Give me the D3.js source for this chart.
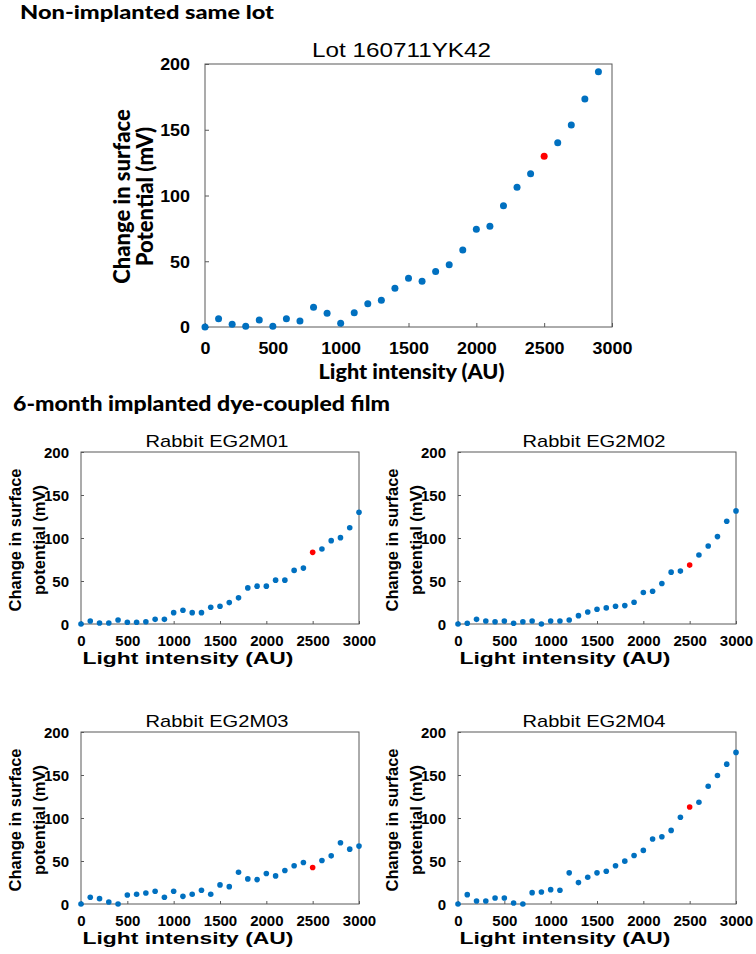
<!DOCTYPE html>
<html>
<head>
<meta charset="utf-8">
<script src="https://cdn.jsdelivr.net/npm/d3@7"></script>
<style>
  body { margin: 0; background: #fff; }
</style>
</head>
<body>
<svg id="fig" width="756" height="954"></svg>
<script>
// light intensity steps (AU)
var intensity = [0, 100, 200, 300, 400, 500, 600, 700, 800, 900, 1000, 1100, 1200, 1300, 1400, 1500,
  1600, 1700, 1800, 1900, 2000, 2100, 2200, 2300, 2400, 2500, 2600, 2700, 2800, 2900, 3000];

// change in surface potential (mV)
var lot160711YK42 = [0, 6.3, 2, 0.5, 5.3, 0.5, 6.3, 4.6, 15, 10.4, 2.8, 10.9, 17.7, 20.3, 29.4, 37,
  34.7, 42.3, 47.4, 58.6, 74.3, 76.6, 92.2, 106.2, 116.6, 129.8, 140.2, 153.6, 173.4, 194.1];
var eg2m01 = [0, 3.5, 1.2, 1.2, 4.7, 2, 2, 2.7, 5.4, 5.4, 13.2, 16, 13.2, 13.2, 19.5, 20.6,
  24.9, 30.4, 42, 44, 44, 51, 51, 62.3, 65, 83.3, 87.2, 96.9, 100.4, 112, 130];
var eg2m02 = [0, 0.8, 5.4, 3.5, 2.7, 3.5, 0.8, 2.7, 3.5, 0, 3.5, 3.5, 4.7, 9.7, 14, 17.1,
  18.7, 20.6, 21.4, 25.3, 36.6, 38.1, 47.1, 60.3, 61.5, 68.5, 80.2, 90.7, 101.6, 119.5, 131.5];
var eg2m03 = [0, 7.8, 6.2, 2.3, 0, 10.5, 11.3, 12.8, 14.8, 7.8, 14.8, 8.9, 11.3, 16, 11.3, 22.2,
  20.2, 37, 29.2, 28.4, 35.4, 32.7, 38.9, 44.4, 48.2, 42.4, 50.6, 56, 71.2, 63.8, 67.3];
var eg2m04 = [0, 10.9, 3.5, 3.5, 7, 7, 1.2, 0, 13.2, 14, 16.7, 16, 36.2, 24.9, 31.1, 36.2,
  38.1, 44.4, 49.8, 56.4, 62.3, 75.5, 78.2, 85.6, 100.8, 112.8, 118.3, 137, 149.4, 162.6, 176.3];

var xTicks = [0, 500, 1000, 1500, 2000, 2500, 3000];
var yTicks = [0, 50, 100, 150, 200];
var highlightAt = 2500;   // the red point

var svg = d3.select("#fig");
var AXIS = "#595959";
var BLUE = "#0070C0";
var RED = "#FF0000";
var ARIAL = "'Liberation Sans', Arial, sans-serif";
var CAL = "Lato, 'Open Sans', sans-serif";

// section headings
svg.append("text")
  .attr("x", 20).attr("y", 19)
  .attr("textLength", 254).attr("lengthAdjust", "spacingAndGlyphs")
  .style("font-family", CAL).style("font-weight", 900).style("font-size", "19px")
  .text("Non-implanted same lot");

svg.append("text")
  .attr("x", 13).attr("y", 411)
  .attr("textLength", 377).attr("lengthAdjust", "spacingAndGlyphs")
  .style("font-family", CAL).style("font-weight", 900).style("font-size", "21px")
  .text("6-month implanted dye-coupled film");

function panel(o) {
  var g = svg.append("g");
  var x = d3.scaleLinear().domain([0, 3000]).range([o.left, o.right]);
  var y = d3.scaleLinear().domain([0, 200]).range([o.bottom, o.top]);

  g.append("rect")
    .attr("x", o.left).attr("y", o.top)
    .attr("width", o.right - o.left).attr("height", o.bottom - o.top)
    .attr("fill", "none").attr("stroke", AXIS).attr("stroke-width", 1);

  var xa = g.append("g")
    .attr("transform", "translate(0," + o.bottom + ")")
    .call(d3.axisBottom(x).tickValues(xTicks).tickSizeInner(-o.tick).tickSizeOuter(0).tickFormat(d3.format("d")));
  xa.select(".domain").remove();
  xa.selectAll("line").attr("stroke", AXIS);
  xa.selectAll("text")
    .attr("y", o.xLabelY).attr("dy", null)
    .attr("transform", "scale(" + o.sx + ",1)")
    .style("font-family", ARIAL).style("font-weight", 700).style("font-size", o.tickFont + "px")
    .style("fill", "#000");

  var ya = g.append("g")
    .attr("transform", "translate(" + o.left + ",0)")
    .call(d3.axisLeft(y).tickValues(yTicks).tickSizeInner(-o.tick).tickSizeOuter(0));
  ya.select(".domain").remove();
  ya.selectAll("line").attr("stroke", AXIS);
  ya.selectAll("text")
    .attr("x", -o.yGap / o.sx).attr("dy", "0.36em")
    .attr("transform", "scale(" + o.sx + ",1)")
    .style("font-family", ARIAL).style("font-weight", 700).style("font-size", o.tickFont + "px")
    .style("fill", "#000");

  // title
  g.append("text")
    .attr("x", (o.left + o.right) / 2 + o.titleShift).attr("y", o.top - o.titleGap)
    .attr("text-anchor", "middle")
    .attr("textLength", o.titleWidth).attr("lengthAdjust", "spacingAndGlyphs")
    .style("font-family", ARIAL).style("font-size", o.titleFont + "px")
    .text(o.title);

  // x axis title
  g.append("text")
    .attr("x", (o.left + o.right) / 2 + o.xTitleShift).attr("y", o.bottom + o.xTitleGap)
    .attr("text-anchor", "middle")
    .attr("textLength", o.xTitleWidth).attr("lengthAdjust", "spacingAndGlyphs")
    .style("font-family", o.labelFamily).style("font-weight", o.labelWeight).style("font-size", o.xTitleFont + "px")
    .text("Light intensity (AU)");

  // y axis title, two lines
  var cy = (o.top + o.bottom) / 2 + o.yTitleShift;
  o.yTitle.forEach(function(line, i) {
    g.append("text")
      .attr("transform", "translate(" + (o.left - o.yTitleGaps[i]) + "," + cy + ") rotate(-90)")
      .attr("text-anchor", "middle")
      .style("font-family", o.labelFamily).style("font-weight", o.labelWeight).style("font-size", o.yTitleFont + "px")
      .text(line);
  });

  var pts = o.values.map(function(v, i) { return { x: intensity[i], y: v }; });
  g.selectAll("circle")
    .data(pts)
    .enter().append("circle")
      .attr("cx", function(d) { return x(d.x); })
      .attr("cy", function(d) { return y(d.y); })
      .attr("r", o.r)
      .style("fill", function(d) { return d.x === highlightAt ? RED : BLUE; });
}

// big chart
panel({
  left: 205, right: 612, top: 64, bottom: 327, tick: 4, sx: 1.12, tickFont: 16,
  xLabelY: 27, yGap: 15,
  title: "Lot 160711YK42", titleFont: 20, titleWidth: 179, titleShift: -7, titleGap: 7,
  labelFamily: CAL, labelWeight: 900, xTitleFont: 20, xTitleWidth: 186, xTitleShift: 3, xTitleGap: 52,
  yTitle: ["Change in surface", "Potential (mV)"], yTitleFont: 22, yTitleGaps: [75, 52], yTitleShift: 1,
  values: lot160711YK42, r: 3.5
});

// four small charts
var small = [
  { left: 81, top: 452, title: "Rabbit EG2M01", values: eg2m01 },
  { left: 458, top: 452, title: "Rabbit EG2M02", values: eg2m02 },
  { left: 81, top: 732, title: "Rabbit EG2M03", values: eg2m03 },
  { left: 458, top: 732, title: "Rabbit EG2M04", values: eg2m04 }
];
small.forEach(function(s) {
  panel({
    left: s.left, right: s.left + 278, top: s.top, bottom: s.top + 172, tick: 3, sx: 1, tickFont: 15,
    xLabelY: 22, yGap: 12,
    title: s.title, titleFont: 17, titleWidth: 143, titleShift: -3, titleGap: 5,
    labelFamily: ARIAL, labelWeight: 700, xTitleFont: 16, xTitleWidth: 211, xTitleShift: -32, xTitleGap: 40,
    yTitle: ["Change in surface", "potential (mV)"], yTitleFont: 16.5, yTitleGaps: [60, 36], yTitleShift: 2,
    values: s.values, r: 2.8
  });
});
</script>
</body>
</html>
